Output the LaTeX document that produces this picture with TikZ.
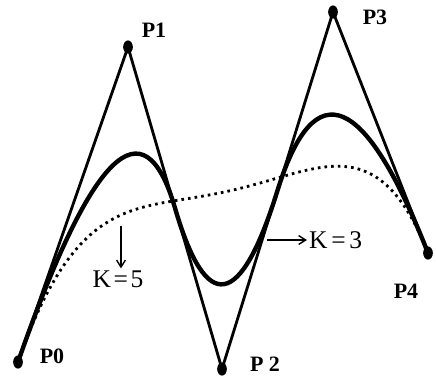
\documentclass[tikz,border=0pt]{standalone}
\usepackage{fontspec}
\setmainfont{Liberation Serif}
\usepackage{tikz}
\usetikzlibrary{arrows.meta, positioning, shapes.geometric, calc}

\begin{document}
\begin{tikzpicture}[x=0.02cm, y=-0.02cm,
  ctrl/.style={ellipse, fill=black, inner sep=0pt, minimum width=5.5pt, minimum height=7.5pt},
  plbl/.style={font=\fontsize{12.5}{14}\selectfont\bfseries, inner sep=1pt},
  klbl/.style={font=\fontsize{14.5}{17}\selectfont, inner sep=1pt},
  polygon/.style={line width=1.6pt},
  kthree/.style={line width=2.5pt},
  kfive/.style={line width=1.6pt, dash pattern=on 1.5pt off 2.3pt},
  pointer/.style={line width=0.8pt, -{Straight Barb[length=4pt, width=5pt]}}]

  \useasboundingbox (0,0) rectangle (436,380);

  % Control points
  \node[ctrl] (P0) at (18,362) {};
  \node[ctrl] (P1) at (128,47) {};
  \node[ctrl] (P2) at (222,369) {};
  \node[ctrl] (P3) at (333,12) {};
  \node[ctrl] (P4) at (428,253) {};

  \node[plbl] (lP0) at (52,356) {P0};
  \node[plbl] (lP1) at (154,30) {P1};
  \node[plbl] (lP2) at (265,364) {P 2};
  \node[plbl] (lP3) at (375,17) {P3};
  \node[plbl] (lP4) at (406,291) {P4};

  % Control polygon
  \draw[polygon] (P0.center) -- (P1.center) -- (P2.center) -- (P3.center) -- (P4.center);

  % K=3: quadratic B-spline, pieces join at the middle of the inner legs
  \coordinate (M12) at ($(P1)!0.5!(P2)$);
  \coordinate (M23) at ($(P2)!0.5!(P3)$);
  \draw[kthree] (P0.center)
    .. controls ($(P0)!2/3!(P1)$) and ($(M12)!2/3!(P1)$) .. (M12)
    .. controls ($(M12)!2/3!(P2)$) and ($(M23)!2/3!(P2)$) .. (M23)
    .. controls ($(M23)!2/3!(P3)$) and ($(P4)!2/3!(P3)$) .. (P4.center);

  % K=5: one quartic piece over all five points
  \draw[kfive] plot[domain=0:1, samples=90, variable=\t]
    ({(1-\t)^4*18 + 4*\t*(1-\t)^3*128 + 6*\t^2*(1-\t)^2*222 + 4*\t^3*(1-\t)*333 + \t^4*428},
     {(1-\t)^4*362 + 4*\t*(1-\t)^3*47 + 6*\t^2*(1-\t)^2*369 + 4*\t^3*(1-\t)*12 + \t^4*253});

  % Curve labels
  \coordinate (k5from) at (121,226);
  \node[klbl] (k5) at (118,279) {K\kern0.1em=\kern0.1em5};
  \draw[pointer] (k5from) -- (k5from |- k5.north);

  \coordinate (k3from) at (267,240);
  \node[klbl, anchor=west] (k3) at (307,240) {K\kern0.15em=\kern0.15em3};
  \draw[pointer] (k3from) -- (k3);
\end{tikzpicture}
\end{document}
